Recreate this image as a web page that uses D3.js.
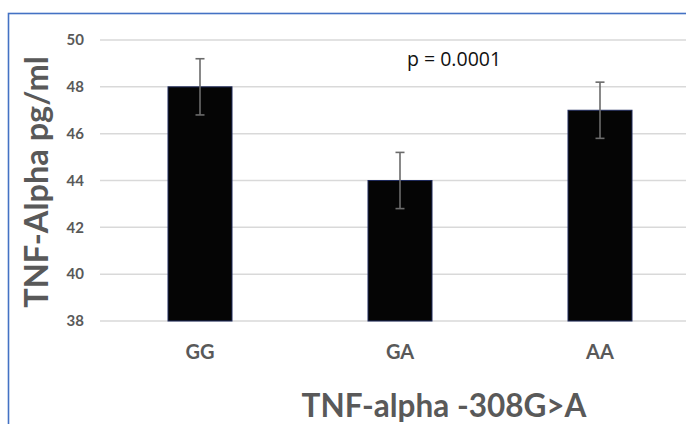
<!DOCTYPE html>
<html>
<head>
<meta charset="utf-8">
<script src="https://cdn.jsdelivr.net/npm/d3@7"></script>
<style>
  html, body { margin: 0; padding: 0; background: #fff; }
  svg { display: block; }
</style>
</head>
<body>
<div id="mainDiv"></div>
<script>
'use strict';

// dados
var categories = ['GG', 'GA', 'AA'];
var means = [48, 44, 47];
var errors = [1.2, 1.2, 1.2];
var yTicks = [38, 40, 42, 44, 46, 48, 50];
var yDomain = [38, 50];
var pLabel = 'p = 0.0001';
var xTitle = 'TNF-alpha -308G>A';
var yTitle = 'TNF-Alpha pg/ml';

var chart = {};
chart.w = 686;
chart.h = 424;
chart.left = 100;
chart.right = 700;
chart.top = 40;
chart.bottom = 321;
chart.gray = '#595959';

chart.appendSvg = function(div)
{
    return d3.select(div).append('svg')
        .attr('width', chart.w)
        .attr('height', chart.h);
}

chart.run = function()
{
    var svg = chart.appendSvg('#mainDiv');

    // moldura azul
    svg.append('rect')
        .attr('x', 8.5).attr('y', 13.5)
        .attr('width', 720).attr('height', 500)
        .attr('fill', 'none')
        .attr('stroke', '#4472c4')
        .attr('stroke-width', 1.6);

    var x = d3.scaleBand().domain(categories)
        .range([chart.left, chart.right])
        .paddingInner(0.68).paddingOuter(0.34);
    var y = d3.scaleLinear().domain(yDomain).range([chart.bottom, chart.top]);

    // grade
    svg.append('g').selectAll('line')
        .data(yTicks).enter().append('line')
        .attr('x1', chart.left).attr('x2', chart.w)
        .attr('y1', function(d){ return y(d); })
        .attr('y2', function(d){ return y(d); })
        .attr('stroke', '#d9d9d9')
        .attr('stroke-width', 1.5);

    // eixo y (só os rótulos)
    var yAxis = svg.append('g')
        .attr('transform', 'translate(84,0)')
        .call(d3.axisLeft(y).tickValues(yTicks).tickSize(0).tickPadding(0));
    yAxis.select('.domain').remove();
    yAxis.selectAll('text')
        .attr('font-family', 'Lato, sans-serif')
        .attr('font-weight', 'bold')
        .attr('font-size', 15)
        .attr('fill', chart.gray);

    // barras
    svg.append('g').selectAll('rect')
        .data(means).enter().append('rect')
        .attr('x', function(d, i){ return x(categories[i]); })
        .attr('y', function(d){ return y(d); })
        .attr('width', x.bandwidth())
        .attr('height', function(d){ return y(yDomain[0]) - y(d); })
        .attr('fill', '#050505')
        .attr('stroke', '#1f2a5c')
        .attr('stroke-width', 1);

    // barras de erro
    var eb = svg.append('g').attr('stroke', '#6b6b6b').attr('stroke-width', 1.6);
    means.forEach(function(m, i){
        var cx = x(categories[i]) + x.bandwidth() / 2;
        var hi = y(m + errors[i]), lo = y(m - errors[i]);
        eb.append('line').attr('x1', cx).attr('x2', cx).attr('y1', hi).attr('y2', lo);
        eb.append('line').attr('x1', cx - 4.5).attr('x2', cx + 4.5).attr('y1', hi).attr('y2', hi);
        eb.append('line').attr('x1', cx - 4.5).attr('x2', cx + 4.5).attr('y1', lo).attr('y2', lo);
    });

    // rótulos das categorias
    var xAxis = svg.append('g')
        .attr('transform', 'translate(0,' + chart.bottom + ')')
        .call(d3.axisBottom(x).tickSize(0).tickPadding(0));
    xAxis.select('.domain').remove();
    xAxis.selectAll('text')
        .attr('dy', null)
        .attr('y', 38)
        .attr('font-family', 'Lato, sans-serif')
        .attr('font-weight', 'bold')
        .attr('font-size', 20)
        .attr('fill', chart.gray);

    // valor p
    svg.append('text')
        .attr('x', 407).attr('y', 66)
        .attr('font-family', '"Open Sans", sans-serif')
        .attr('font-size', 19.5)
        .attr('fill', '#111')
        .text(pLabel);

    // títulos dos eixos
    svg.append('text')
        .attr('x', 444).attr('y', 417)
        .attr('text-anchor', 'middle')
        .attr('font-family', 'Lato, sans-serif')
        .attr('font-weight', 'bold')
        .attr('font-size', 31.5)
        .attr('fill', chart.gray)
        .text(xTitle);

    svg.append('text')
        .attr('transform', 'translate(48,182) rotate(-90)')
        .attr('text-anchor', 'middle')
        .attr('font-family', 'Lato, sans-serif')
        .attr('font-weight', 'bold')
        .attr('font-size', 32.5)
        .attr('fill', chart.gray)
        .text(yTitle);
}

window.onload = chart.run;
</script>
</body>
</html>
